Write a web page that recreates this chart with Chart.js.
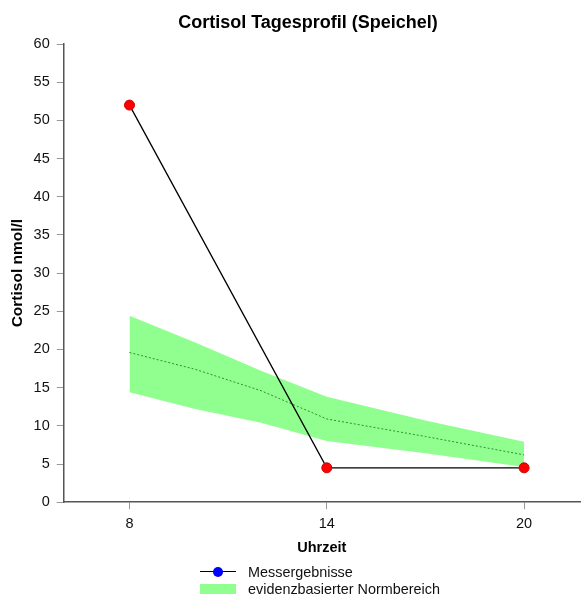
<!DOCTYPE html>
<html>
<head>
<meta charset="utf-8">
<script src="https://cdn.jsdelivr.net/npm/chart.js@4/dist/chart.umd.min.js"></script>
<style>
  body { margin: 0; background: #fff; font-family: "Liberation Sans", Arial, sans-serif; }
  #wrap { position: relative; width: 586px; height: 595px; }
  #title { position: absolute; left: 30px; right: 0; top: 12px; text-align: center;
           font-size: 18px; line-height: 20px; font-weight: bold; color: #000; }
  #legend { position: absolute; left: 200px; top: 563px; font-size: 14.4px; color: #111; }
  .item { display: flex; align-items: center; height: 17px; }
  .sym { width: 36px; height: 10px; margin-right: 12px; position: relative; }
  .line { position: absolute; left: 0; right: 0; top: 4px; border-top: 1.5px solid #000; }
  .dot { position: absolute; left: 13px; top: 0; width: 10px; height: 10px; border-radius: 50%; background: #0000ff; }
  .box { background: #90ff90; }
</style>
</head>
<body>
<div id="wrap">
  <canvas id="cortisolChart"></canvas>
  <div id="title">Cortisol Tagesprofil (Speichel)</div>
  <div id="legend">
    <div class="item"><span class="sym"><span class="line"></span><span class="dot"></span></span>Messergebnisse</div>
    <div class="item"><span class="sym box"></span>evidenzbasierter Normbereich</div>
  </div>
</div>
<script>
// Messwerte (Uhrzeit -> nmol/l)
const hours = [8, 14, 20];
const cortisol = [52, 4.5, 4.5];

// Normbereich
const bandHours = [8, 10, 12, 14, 17, 20];
const bandUpper = [24.4, 20.9, 17.2, 13.8, 10.7, 7.9];
const bandMid = [19.6, 17.4, 14.6, 10.9, 8.6, 6.2];
const bandLower = [14.4, 12.2, 10.4, 8.0, 6.4, 4.6];

const xTicks = [8, 14, 20];

const toPoints = (xs, ys) => xs.map((x, i) => ({ x: x, y: ys[i] }));

const ctx = document.getElementById('cortisolChart').getContext('2d');
const chart = new Chart(ctx, {
    type: 'line',
    data: {
        datasets: [{
            label: 'Messergebnisse',
            data: toPoints(hours, cortisol),
            borderColor: '#000',
            borderWidth: 1.3,
            pointBackgroundColor: '#ff0000',
            pointBorderColor: '#cc0000',
            pointBorderWidth: 1,
            pointRadius: 5,
            fill: false,
            order: 0
        }, {
            label: 'upper',
            data: toPoints(bandHours, bandUpper),
            borderWidth: 0,
            borderColor: 'rgba(0,0,0,0)',
            backgroundColor: '#90ff90',
            pointRadius: 0,
            fill: 3,
            order: 3
        }, {
            label: 'mid',
            data: toPoints(bandHours, bandMid),
            borderColor: '#2f8f2f',
            borderWidth: 1,
            borderDash: [2, 2],
            pointRadius: 0,
            fill: false,
            order: 1
        }, {
            label: 'lower',
            data: toPoints(bandHours, bandLower),
            borderWidth: 0,
            borderColor: 'rgba(0,0,0,0)',
            pointRadius: 0,
            fill: false,
            order: 2
        }]
    },
    options: {
        responsive: true,
        maintainAspectRatio: false,
        animation: false,
        layout: {
            padding: { top: 44, right: 0, bottom: 38, left: 8 }
        },
        plugins: {
            legend: { display: false },
            tooltip: { enabled: false }
        },
        scales: {
            x: {
                type: 'linear',
                min: 6,
                max: 21.7,
                afterBuildTicks: (axis) => {
                    axis.ticks = xTicks.map(v => ({ value: v }));
                },
                border: { color: '#555', width: 1.5 },
                grid: { display: true, drawOnChartArea: false, drawTicks: true, tickLength: 7, color: '#999' },
                ticks: { color: '#111', font: { family: 'Liberation Sans', size: 14.5 }, padding: 6 },
                title: {
                    display: true,
                    text: 'Uhrzeit',
                    color: '#000',
                    font: { family: 'Liberation Sans', size: 14.5, weight: 'bold' },
                    padding: { top: 1, bottom: 0 }
                }
            },
            y: {
                min: 0,
                max: 60,
                border: { color: '#555', width: 1.5 },
                grid: { display: true, drawOnChartArea: false, drawTicks: true, tickLength: 7, color: '#999' },
                ticks: { stepSize: 5, color: '#111', font: { family: 'Liberation Sans', size: 14.5 }, padding: 7 },
                title: {
                    display: true,
                    text: 'Cortisol nmol/l',
                    color: '#000',
                    font: { family: 'Liberation Sans', size: 15.5, weight: 'bold' },
                    padding: { top: 0, bottom: 0 }
                }
            }
        }
    }
});
</script>
</body>
</html>
